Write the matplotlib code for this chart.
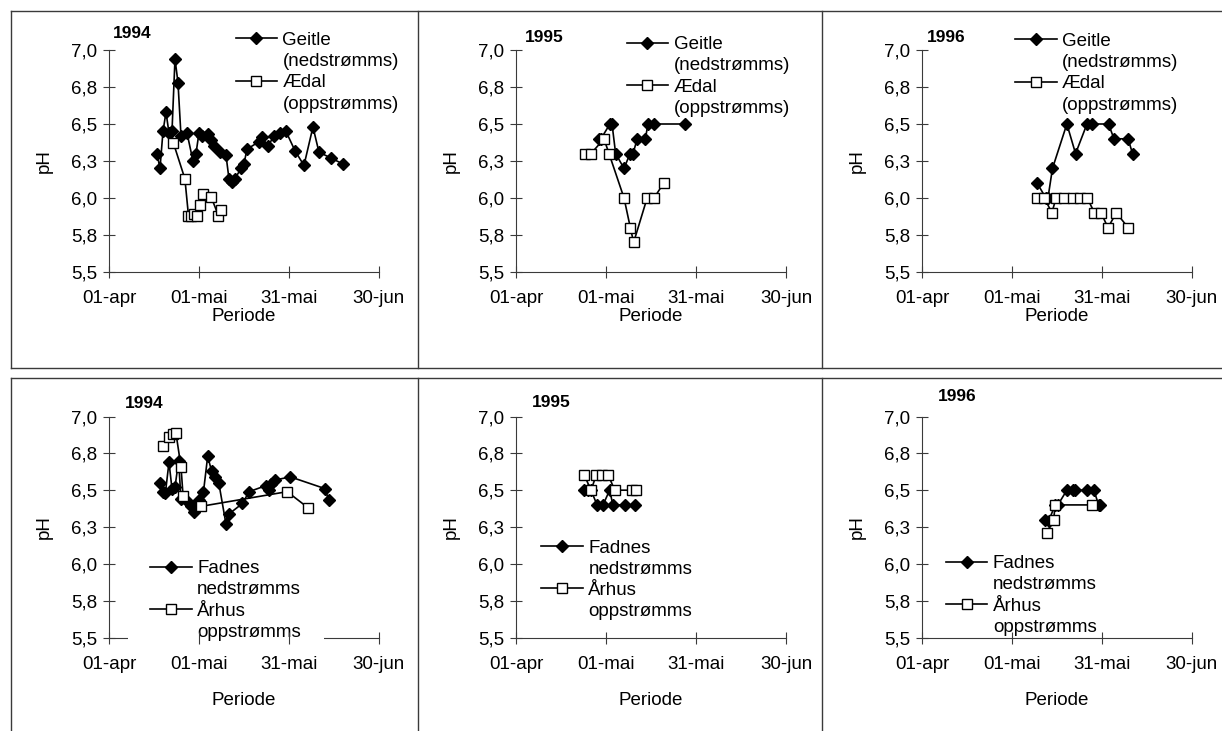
"""pH i Geitle/Ædal og Fadnes/Århus, vårperioden 1994-1996."""

import matplotlib.pyplot as plt
from matplotlib.lines import Line2D

plt.rcParams["font.family"] = ["Liberation Sans", "DejaVu Sans"]

# x values are days after 01-apr
geitle_1994_days = [16, 17, 18, 19, 20, 21, 22, 23, 24, 26, 28, 29, 30, 31, 33, 34,
                    35, 37, 39, 40, 41, 42, 44, 45, 46, 50, 51, 53, 55, 57, 59, 62,
                    65, 68, 70, 74, 78]
geitle_1994_ph = [6.30, 6.20, 6.45, 6.58, 6.44, 6.45, 6.94, 6.78, 6.42, 6.44, 6.25,
                  6.30, 6.44, 6.42, 6.43, 6.39, 6.35, 6.31, 6.29, 6.13, 6.11, 6.13,
                  6.20, 6.23, 6.33, 6.38, 6.41, 6.35, 6.42, 6.44, 6.45, 6.32, 6.22,
                  6.48, 6.31, 6.27, 6.23]
aedal_1994_days = [21.5, 25.3, 26.5, 27.5, 28.5, 29.5, 30.3, 31.3, 34, 36.5, 37.5]
aedal_1994_ph = [6.37, 6.13, 5.88, 5.88, 5.89, 5.88, 5.95, 6.03, 6.01, 5.88, 5.92]

geitle_1995_days = [27.5, 28.3, 31.3, 32.0, 33.2, 36.0, 38.0, 39.0, 40.4, 43.1, 44.0,
                    46.0, 56.4]
geitle_1995_ph = [6.40, 6.40, 6.50, 6.50, 6.30, 6.20, 6.30, 6.30, 6.40, 6.40, 6.50,
                  6.50, 6.50]
aedal_1995_days = [23.0, 25.0, 29.3, 31.0, 36.0, 38.1, 39.2, 43.7, 46.0, 49.2]
aedal_1995_ph = [6.30, 6.30, 6.40, 6.30, 6.00, 5.80, 5.70, 6.00, 6.00, 6.10]

geitle_1996_days = [38.4, 41.3, 42.0, 43.5, 48.3, 51.2, 55.0, 56.8, 62.2, 64.0, 68.7,
                    70.2]
geitle_1996_ph = [6.10, 6.00, 6.00, 6.20, 6.50, 6.30, 6.50, 6.50, 6.50, 6.40, 6.40,
                  6.30]
aedal_1996_days = [38.4, 40.8, 43.3, 44.7, 47.5, 50.3, 52.8, 55.1, 57.5, 59.7, 62.0,
                   64.8, 68.7]
aedal_1996_ph = [6.00, 6.00, 5.90, 6.00, 6.00, 6.00, 6.00, 6.00, 5.90, 5.90, 5.80,
                 5.90, 5.80]

fadnes_1994_days = [17.0, 18.0, 18.8, 20.0, 21.0, 22.0, 23.2, 24.0, 26.3, 27.3, 28.5,
                    30.0, 31.5, 32.9, 34.2, 35.5, 36.6, 39.0, 40.1, 44.5, 46.7, 52.2,
                    53.3, 54.0, 55.5, 60.5, 72.1, 73.2]
fadnes_1994_ph = [6.55, 6.49, 6.48, 6.69, 6.51, 6.52, 6.70, 6.44, 6.42, 6.39, 6.35,
                  6.43, 6.49, 6.73, 6.63, 6.59, 6.55, 6.27, 6.34, 6.41, 6.49, 6.53,
                  6.50, 6.54, 6.57, 6.59, 6.51, 6.43]
arhus_1994_days = [18.0, 20.0, 21.3, 22.3, 24.0, 24.7, 30.6, 59.4, 66.4]
arhus_1994_ph = [6.80, 6.86, 6.88, 6.89, 6.66, 6.46, 6.39, 6.49, 6.38]

fadnes_1995_days = [22.8, 24.0, 25.0, 27.0, 29.0, 31.2, 32.3, 36.2, 39.5]
fadnes_1995_ph = [6.5, 6.5, 6.5, 6.4, 6.4, 6.5, 6.4, 6.4, 6.4]
arhus_1995_days = [22.8, 25.0, 26.7, 28.7, 30.8, 32.9, 38.8, 40.1]
arhus_1995_ph = [6.6, 6.5, 6.6, 6.6, 6.6, 6.5, 6.5, 6.5]

fadnes_1996_days = [41.1, 42.2, 44.4, 45.3, 48.3, 50.2, 51.1, 55.0, 57.3, 58.9, 59.5]
fadnes_1996_ph = [6.30, 6.29, 6.40, 6.40, 6.50, 6.50, 6.50, 6.50, 6.50, 6.40, 6.40]
arhus_1996_days = [41.6, 43.9, 44.4, 56.7]
arhus_1996_ph = [6.21, 6.30, 6.40, 6.40]

geitle_labels = ["Geitle", "(nedstrømms)", "Ædal", "(oppstrømms)"]
fadnes_labels = ["Fadnes", "nedstrømms", "Århus", "oppstrømms"]

x_ticks = [0, 30, 60, 90]
x_ticklabels = ["01-apr", "01-mai", "31-mai", "30-jun"]
ph_ticks = [5.5, 5.75, 6.0, 6.25, 6.5, 6.75, 7.0]
ph_ticklabels = ["5,5", "5,8", "6,0", "6,3", "6,5", "6,8", "7,0"]

AXIS_COLOR = "#3a3a3a"
FONT = 13.5


def draw_panel(ax, year, down, up, labels, title_xy, legend_xy, xlabel_y,
               cover_axis=False):
    ax.plot(*down, color="black", lw=1.2, marker="D", ms=6.3,
            mfc="black", mec="black")
    ax.plot(*up, color="black", lw=1.2, marker="s", ms=6.5,
            mfc="white", mec="black", mew=1)

    ax.set_xlim(0, 90)
    ax.set_ylim(5.5, 7.0)
    ax.set_xticks(x_ticks, x_ticklabels)
    ax.set_yticks(ph_ticks, ph_ticklabels)
    ax.tick_params(axis="both", direction="inout", length=8, width=0.8,
                   color=AXIS_COLOR, labelsize=FONT)
    ax.tick_params(axis="x", pad=9)
    ax.tick_params(axis="y", pad=4.5)
    for side in ("top", "right"):
        ax.spines[side].set_visible(False)
    for side in ("left", "bottom"):
        ax.spines[side].set_color(AXIS_COLOR)
        ax.spines[side].set_linewidth(0.8)

    ax.set_xlabel("Periode", fontsize=FONT, va="center")
    ax.xaxis.set_label_coords(0.5, xlabel_y)
    ax.set_ylabel("pH", fontsize=FONT, va="center", ha="center")
    ax.yaxis.set_label_coords(-0.24, 0.5)

    ax.text(*title_xy, year, transform=ax.transAxes, ha="left", va="center",
            fontsize=12.5, fontweight="bold")

    # second line of each label gets an empty handle, like the Excel legend
    blank = Line2D([], [], color="none")
    handles = [
        Line2D([], [], color="black", lw=1.2, marker="D", ms=6.3, mfc="black"),
        blank,
        Line2D([], [], color="black", lw=1.2, marker="s", ms=6.5, mfc="white"),
        blank,
    ]
    pad = 1.2 if cover_axis else 0.0
    leg = ax.legend(handles, labels, loc="upper left", bbox_to_anchor=legend_xy,
                    fontsize=FONT, borderpad=pad, borderaxespad=0,
                    labelspacing=0.22, handlelength=2.2, handletextpad=0.3,
                    frameon=cover_axis)
    if cover_axis:
        # the legend box hides part of the x axis line in the original
        leg.get_frame().set_facecolor("white")
        leg.get_frame().set_edgecolor("none")
        leg.get_frame().set_alpha(1)
        ax.xaxis.set_zorder(6)


fig = plt.figure(figsize=(12.22, 7.31), dpi=100)

lefts = [0.0892, 0.4223, 0.7545]
width = 0.2209
top_row = (0.6279, 0.3037)
bottom_row = (0.1279, 0.3023)

panels = [
    (lefts[0], top_row, "1994", (geitle_1994_days, geitle_1994_ph),
     (aedal_1994_days, aedal_1994_ph), geitle_labels,
     (0.015, 1.076), (0.469, 1.082), -0.2, False),
    (lefts[1], top_row, "1995", (geitle_1995_days, geitle_1995_ph),
     (aedal_1995_days, aedal_1995_ph), geitle_labels,
     (0.033, 1.057), (0.41, 1.063), -0.2, False),
    (lefts[2], top_row, "1996", (geitle_1996_days, geitle_1996_ph),
     (aedal_1996_days, aedal_1996_ph), geitle_labels,
     (0.018, 1.058), (0.346, 1.078), -0.2, False),
    (lefts[0], bottom_row, "1994", (fadnes_1994_days, fadnes_1994_ph),
     (arhus_1994_days, arhus_1994_ph), fadnes_labels,
     (0.059, 1.059), (0.07, 0.452), -0.285, True),
    (lefts[1], bottom_row, "1995", (fadnes_1995_days, fadnes_1995_ph),
     (arhus_1995_days, arhus_1995_ph), fadnes_labels,
     (0.06, 1.063), (0.094, 0.444), -0.285, False),
    (lefts[2], bottom_row, "1996", (fadnes_1996_days, fadnes_1996_ph),
     (arhus_1996_days, arhus_1996_ph), fadnes_labels,
     (0.059, 1.09), (0.089, 0.373), -0.285, False),
]

for left, (bottom, height), year, down, up, labels, title_xy, legend_xy, xl_y, cover in panels:
    ax = fig.add_axes([left, bottom, width, height])
    draw_panel(ax, year, down, up, labels, title_xy, legend_xy, xl_y, cover)

# cell borders of the scanned page
border = dict(transform=fig.transFigure, color=AXIS_COLOR, lw=1)
x_left, x_div1, x_div2 = 0.009, 0.342, 0.673
y_top, y_row1_bottom, y_row2_top = 0.985, 0.4966, 0.483
fig.add_artist(Line2D([x_left, 1], [y_top, y_top], **border))
fig.add_artist(Line2D([x_left, 1], [y_row1_bottom, y_row1_bottom], **border))
fig.add_artist(Line2D([x_left, 1], [y_row2_top, y_row2_top], **border))
for x in (x_left, x_div1, x_div2):
    fig.add_artist(Line2D([x, x], [y_row1_bottom, y_top], **border))
    fig.add_artist(Line2D([x, x], [0, y_row2_top], **border))

fig.savefig("out.png", dpi=100)
